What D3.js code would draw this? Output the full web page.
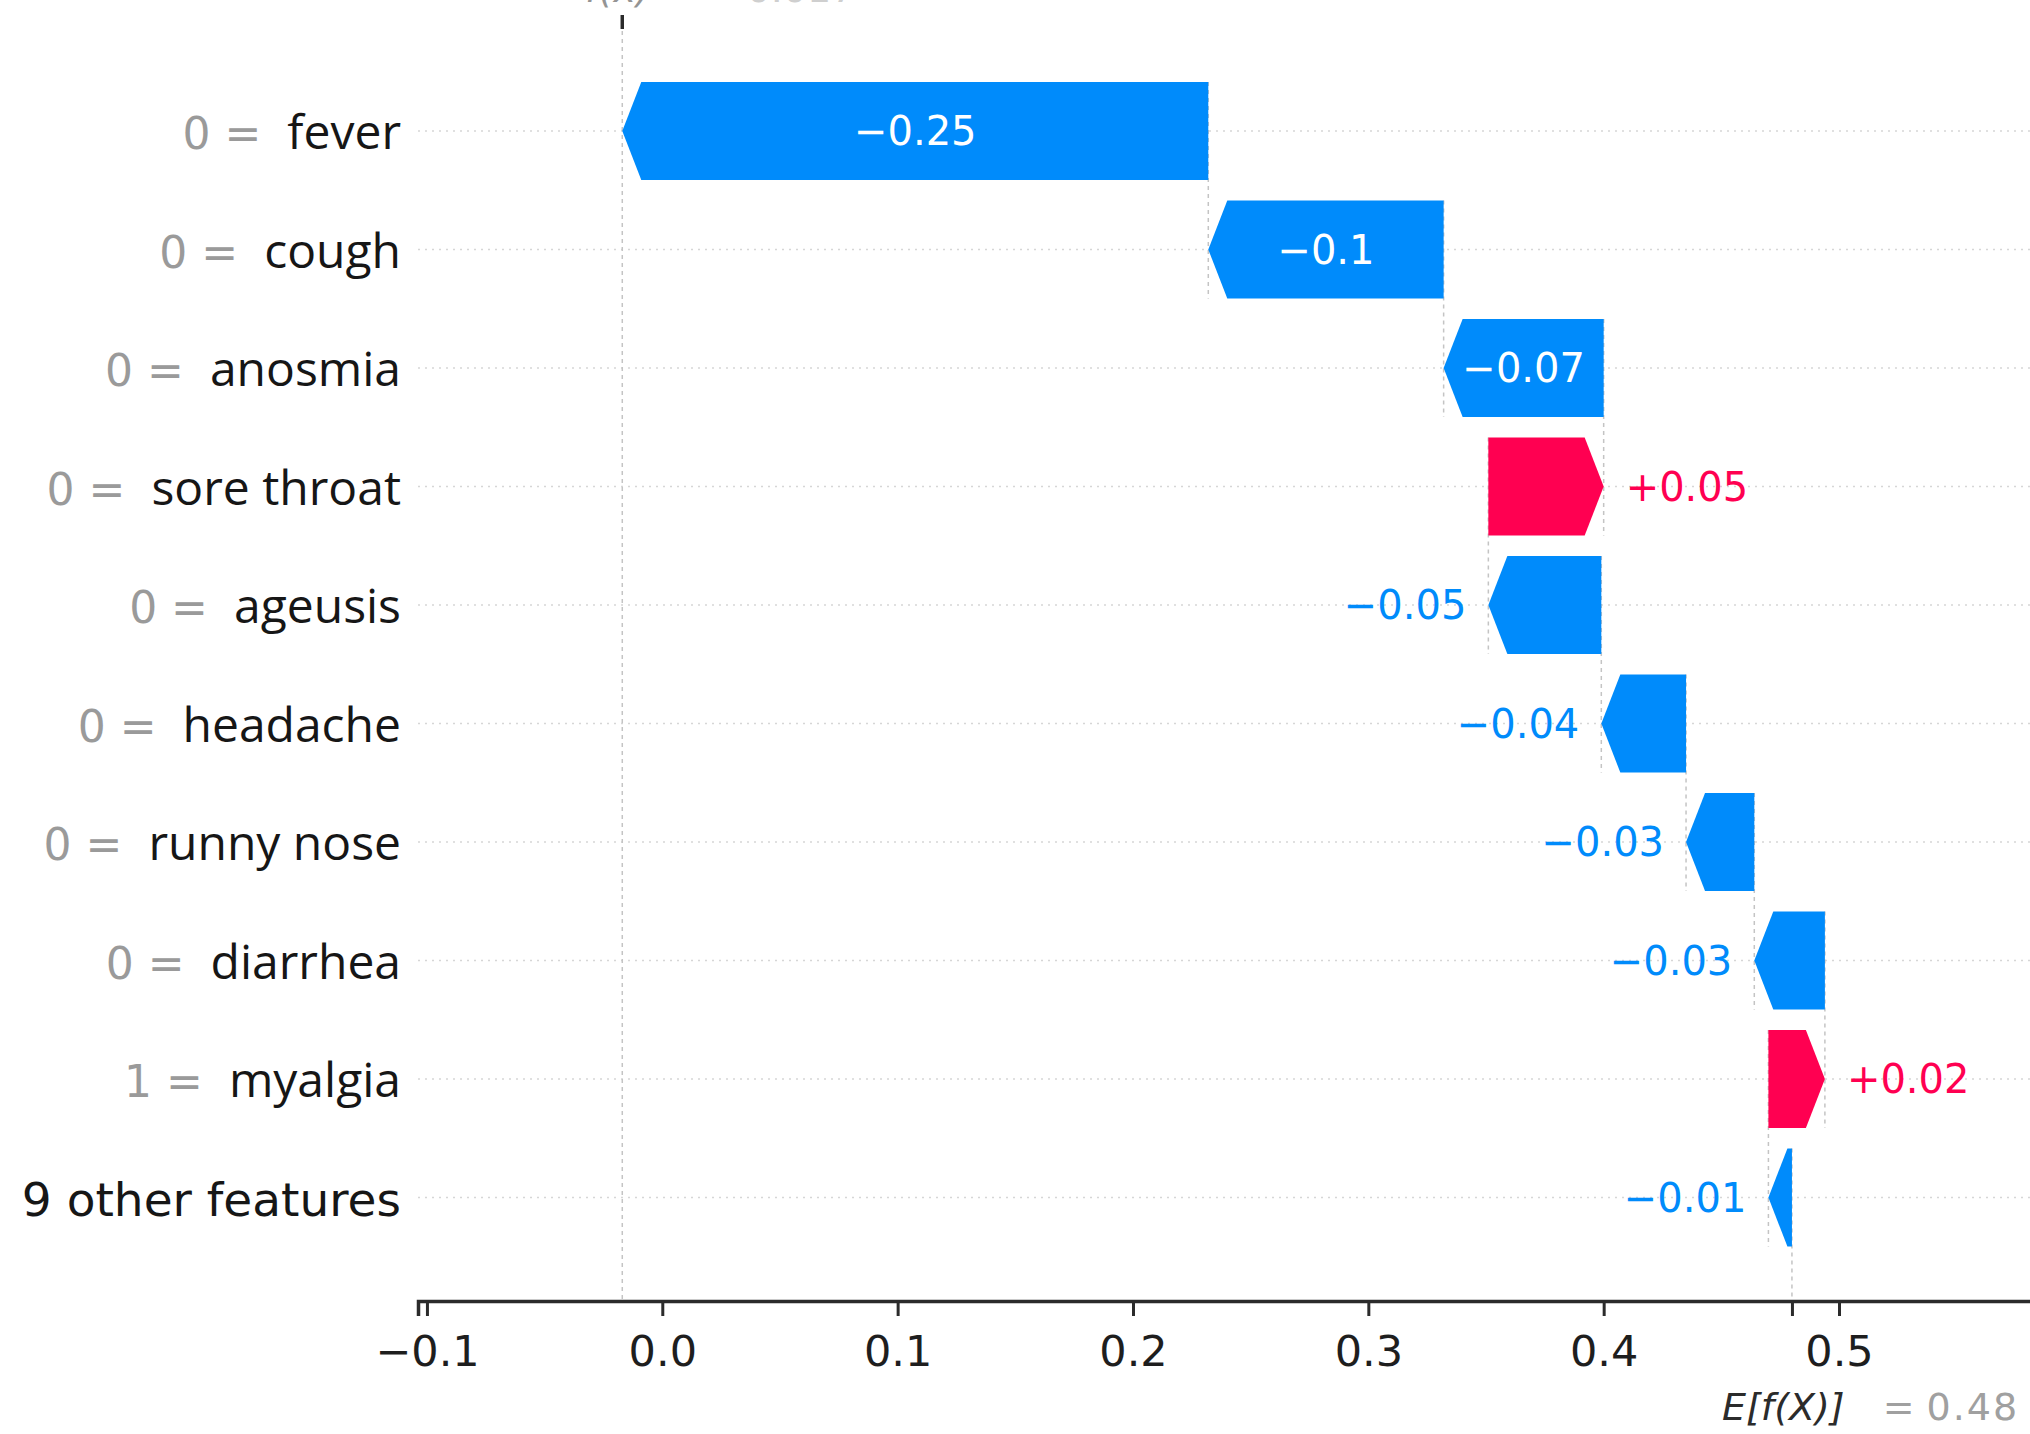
<!DOCTYPE html>
<html>
<head>
<meta charset="utf-8">
<script src="https://cdn.jsdelivr.net/npm/d3@7"></script>
<style>
  html, body { margin: 0; padding: 0; background: #ffffff; overflow: hidden; }
  svg { display: block; }
</style>
</head>
<body>
<svg id="chart" width="2030" height="1434"></svg>
<script>
// Waterfall of feature contributions, top row = largest effect.
const featureValues = ["0", "0", "0", "0", "0", "0", "0", "0", "1", ""];
const featureNames = ["fever", "cough", "anosmia", "sore throat", "ageusis",
                      "headache", "runny nose", "diarrhea", "myalgia", "9 other features"];
const shapValues = [-0.249, -0.100, -0.068, 0.049, -0.048, -0.036, -0.029, -0.030, 0.024, -0.010];
const baseValue = 0.48;
const tickValues = [-0.1, 0.0, 0.1, 0.2, 0.3, 0.4, 0.5];

const RED = "#ff0051", BLUE = "#008bfb";
const W = 2030, H = 1434;
const axisY = 1301;
const barH = 98;
const headLen = 19;

const svg = d3.select("#chart");

const x = d3.scaleLinear().domain([-0.1038, 0.5854]).range([418, 2040]);
const y = d3.scalePoint().domain(d3.range(featureNames.length)).range([131, 1197.5]);

// Accumulate from the bottom row (base value) upward.
const rows = featureNames.map((name, i) => ({ name, fval: featureValues[i], v: shapValues[i], i }));
let acc = baseValue;
for (let i = rows.length - 1; i >= 0; i--) {
  rows[i].from = acc;
  acc += rows[i].v;
  rows[i].to = acc;
}
const fx = acc;

const stripZeros = s => s.indexOf(".") >= 0 ? s.replace(/0+$/, "").replace(/\.$/, "") : s;
const minus = "\u2212";
const fmtSigned = v => (v < 0 ? minus : "+") + stripZeros(d3.format(".2f")(Math.abs(v)));
const fmtPlain = v => (v < 0 ? minus : "") + stripZeros(d3.format(".3f")(Math.abs(v)));

// Horizontal dotted row guides
svg.append("g").selectAll("line").data(rows).join("line")
  .attr("x1", x.range()[0]).attr("x2", W)
  .attr("y1", d => y(d.i)).attr("y2", d => y(d.i))
  .attr("stroke", "#d6d6d6").attr("stroke-width", 1.5)
  .attr("stroke-dasharray", "2,5");

// Vertical connectors between consecutive bars
const conn = svg.append("g").attr("stroke", "#c4c4c4").attr("stroke-width", 1.5)
  .attr("stroke-dasharray", "4,4");
rows.forEach(d => {
  if (d.i < rows.length - 1) {
    conn.append("line")
      .attr("x1", x(d.from)).attr("x2", x(d.from))
      .attr("y1", y(d.i) - barH / 2).attr("y2", y(d.i + 1) + barH / 2);
  }
});
// f(x) line, full height
conn.append("line").attr("x1", x(fx)).attr("x2", x(fx)).attr("y1", 15).attr("y2", axisY);
// E[f(X)] line, from the bottom bar to the axis
conn.append("line").attr("x1", x(baseValue)).attr("x2", x(baseValue))
  .attr("y1", y(rows.length - 1) - barH / 2).attr("y2", axisY);

// Arrow-shaped bars
function arrowPath(d) {
  const x0 = x(d.from), x1 = x(d.to);
  const yc = y(d.i), yt = yc - barH / 2, yb = yc + barH / 2;
  const len = Math.abs(x1 - x0);
  const h = Math.min(headLen, len);
  const dir = x1 >= x0 ? 1 : -1;
  const xn = x1 - dir * h;
  return d3.line()([[x0, yt], [xn, yt], [x1, yc], [xn, yb], [x0, yb]]) + "Z";
}
svg.append("g").selectAll("path").data(rows).join("path")
  .attr("d", arrowPath)
  .attr("fill", d => d.v >= 0 ? RED : BLUE);

// Value labels: inside the bar when they fit, otherwise beyond the tip
const vlab = svg.append("g").attr("font-family", "DejaVu Sans").attr("font-size", 40);
rows.forEach(d => {
  const t = vlab.append("text").text(fmtSigned(d.v)).attr("y", y(d.i) + 14);
  const tw = t.node().getComputedTextLength();
  const x0 = x(d.from), x1 = x(d.to);
  const bw = Math.abs(x1 - x0);
  if (bw > tw + 20) {
    t.attr("x", (x0 + x1) / 2).attr("text-anchor", "middle").attr("fill", "#ffffff");
  } else if (d.v < 0) {
    t.attr("x", x1 - 22).attr("text-anchor", "end").attr("fill", BLUE);
  } else {
    t.attr("x", x1 + 22).attr("text-anchor", "start").attr("fill", RED);
  }
});

// Feature labels: grey "value =" followed by the dark feature name
const flab = svg.append("g");
rows.forEach(d => {
  const t = flab.append("text")
    .attr("x", 401).attr("y", y(d.i) + 18)
    .attr("text-anchor", "end");
  if (d.fval !== "") {
    t.append("tspan").attr("font-family", "DejaVu Sans").attr("font-size", 44)
      .attr("fill", "#9a9a9a").text(d.fval + " =");
    t.append("tspan").attr("font-family", "Open Sans").attr("font-size", 48)
      .attr("fill", "#161616").attr("dx", 26).text(d.name);
  } else {
    t.attr("font-family", "DejaVu Sans").attr("font-size", 47).attr("fill", "#161616").text(d.name);
  }
});

// Bottom axis
const axis = d3.axisBottom(x).tickValues(tickValues.concat([baseValue]))
  .tickFormat(d => tickValues.includes(d) ? d3.format(".1f")(d) : "")
  .tickSizeOuter(0).tickSize(15).tickPadding(19);
const gx = svg.append("g").attr("transform", `translate(0,${axisY})`).call(axis);
gx.select(".domain").attr("stroke", "#2b2b2b").attr("stroke-width", 3.5);
gx.selectAll(".tick line").attr("stroke", "#2b2b2b").attr("stroke-width", 3);
gx.selectAll(".tick text").attr("font-family", "DejaVu Sans").attr("font-size", 43).attr("fill", "#1e1e1e");

// E[f(X)] label under the axis
const eLab = svg.append("text").attr("x", x(baseValue) - 70).attr("y", 1420)
  .attr("font-family", "DejaVu Sans").attr("font-size", 38);
eLab.append("tspan").attr("font-style", "italic").attr("fill", "#2b2b2b").text("E[f(X)]");
eLab.append("tspan").attr("fill", "#a0a0a0").attr("dx", 38).text("=");
eLab.append("tspan").attr("fill", "#a0a0a0").attr("dx", 12).attr("letter-spacing", 2)
  .text(stripZeros(d3.format(".3f")(baseValue)));

// Top f(x) tick and label (the label sits at the very top edge)
svg.append("line").attr("x1", x(fx)).attr("x2", x(fx)).attr("y1", 15).attr("y2", 29)
  .attr("stroke", "#2b2b2b").attr("stroke-width", 3.5);
const fLab = svg.append("text").attr("x", x(fx) - 37).attr("y", 2)
  .attr("font-family", "DejaVu Sans").attr("font-size", 38).attr("opacity", 0.5);
fLab.append("tspan").attr("font-style", "italic").attr("fill", "#2b2b2b").text("f(x)");
fLab.append("tspan").attr("fill", "#a0a0a0").attr("dx", 20).text("= " + fmtPlain(fx));
</script>
</body>
</html>
